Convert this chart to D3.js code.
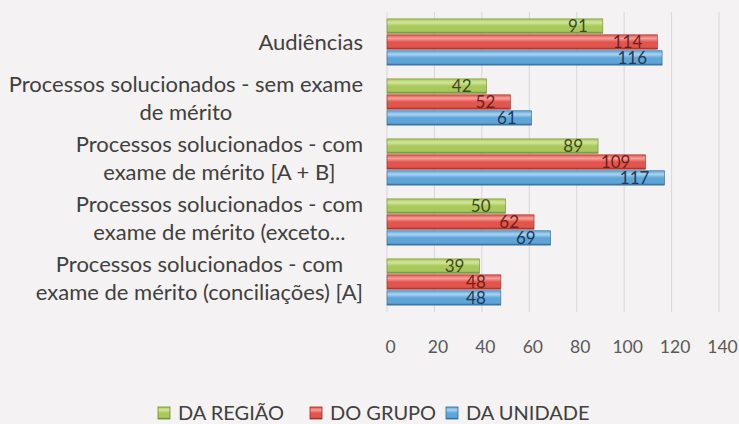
<!DOCTYPE html>
<html>
<head>
<meta charset="utf-8">
<script src="https://cdn.jsdelivr.net/npm/d3@7"></script>
<style>
  body { margin: 0; background: #f4f2f3; }
  svg { display: block; font-family: Lato, "Open Sans", sans-serif; }
</style>
</head>
<body>
<div id="chart"></div>
<script>
// categories, top to bottom as drawn
const categories = [
  ["Audiências"],
  ["Processos solucionados - sem exame", "de mérito"],
  ["Processos solucionados - com", "exame de mérito [A + B]"],
  ["Processos solucionados - com", "exame de mérito (exceto..."],
  ["Processos solucionados - com", "exame de mérito (conciliações) [A]"]
];
const seriesNames = ["DA REGIÃO", "DO GRUPO", "DA UNIDADE"];
const regiao = [91, 42, 89, 50, 39];
const grupo = [114, 52, 109, 62, 48];
const unidade = [116, 61, 117, 69, 48];
const xTicks = [0, 20, 40, 60, 80, 100, 120, 140];

const series = [regiao, grupo, unidade];
const colors = [
  { top: "#d4e59a", mid: "#a9c95c", bot: "#6f8a2e", text: "#3d4a1c" },
  { top: "#f4a09a", mid: "#e2554c", bot: "#9e2a24", text: "#6e1f1b" },
  { top: "#a9d3f0", mid: "#5fa5d8", bot: "#2f6a99", text: "#1d3a58" }
];

const width = 739, height = 424;
const svg = d3.select("#chart").append("svg")
  .attr("width", width).attr("height", height);

// bar gradients (bevelled look)
const defs = svg.append("defs");
colors.forEach((c, i) => {
  const g = defs.append("linearGradient").attr("id", "grad" + i)
    .attr("x1", 0).attr("y1", 0).attr("x2", 0).attr("y2", 1);
  g.append("stop").attr("offset", "0%").attr("stop-color", c.mid);
  g.append("stop").attr("offset", "25%").attr("stop-color", c.top);
  g.append("stop").attr("offset", "50%").attr("stop-color", c.mid);
  g.append("stop").attr("offset", "85%").attr("stop-color", c.mid);
  g.append("stop").attr("offset", "100%").attr("stop-color", c.bot);
});

const x = d3.scaleLinear().domain([0, 140]).range([387, 719]);
const y0 = d3.scaleBand().domain(d3.range(categories.length))
  .range([12, 312]).paddingInner(0.23).paddingOuter(0.115);
const y1 = d3.scaleBand().domain(d3.range(series.length))
  .range([0, y0.bandwidth()]).paddingInner(0.1);

// gridlines
svg.append("g").selectAll("line").data(xTicks).join("line")
  .attr("x1", d => x(d)).attr("x2", d => x(d))
  .attr("y1", 12).attr("y2", 312)
  .attr("stroke", "#d9d7d8").attr("stroke-width", 1);

// x axis labels
const xAxis = d3.axisBottom(x).tickValues(xTicks).tickSize(0).tickPadding(0);
const ax = svg.append("g").attr("transform", "translate(3,341)").call(xAxis);
ax.select(".domain").remove();
ax.selectAll("text").attr("font-size", 17.5).attr("fill", "#595959")
  .attr("font-family", "Lato, sans-serif");

// bars
const groups = svg.append("g").selectAll("g").data(categories).join("g")
  .attr("transform", (d, i) => `translate(0,${y0(i)})`);

groups.each(function (cat, ci) {
  const g = d3.select(this);
  series.forEach((s, si) => {
    const v = s[ci];
    g.append("rect")
      .attr("x", x(0)).attr("y", y1(si))
      .attr("width", x(v) - x(0)).attr("height", y1.bandwidth())
      .attr("fill", `url(#grad${si})`)
      .attr("stroke", colors[si].bot).attr("stroke-width", 0.6);
  });
  // value labels on top of all bars
  series.forEach((s, si) => {
    const v = s[ci];
    g.append("text")
      .attr("x", x(v) - 15).attr("y", y1(si) + y1.bandwidth() / 2)
      .attr("dy", "0.36em").attr("text-anchor", "end")
      .attr("font-size", 17).attr("fill", colors[si].text)
      .text(v);
  });
});

// category labels: lines centred on each other, block right-aligned
const labelRight = 363;
categories.forEach((lines, ci) => {
  const cy = y0(ci) + y0.bandwidth() / 2;
  const lh = 28;
  const t = svg.append("text")
    .attr("font-size", 22).attr("fill", "#404040").attr("text-anchor", "middle");
  lines.forEach((ln, li) => {
    t.append("tspan").attr("x", 0)
      .attr("y", cy + (li - (lines.length - 1) / 2) * lh - (lines.length > 1 ? 4 : 0))
      .attr("dy", "0.36em").text(ln);
  });
  const bb = t.node().getBBox();
  t.attr("transform", `translate(${labelRight - bb.width / 2},0)`);
});

// legend
const legendX = [158, 310, 446];
const legend = svg.append("g").selectAll("g").data(seriesNames).join("g")
  .attr("transform", (d, i) => `translate(${legendX[i]},413)`);
legend.append("rect").attr("x", 0).attr("y", -6).attr("width", 12).attr("height", 12)
  .attr("fill", (d, i) => `url(#grad${i})`)
  .attr("stroke", (d, i) => colors[i].bot).attr("stroke-width", 0.8);
legend.append("text").attr("x", 20).attr("dy", "0.36em")
  .attr("font-size", 20).attr("fill", "#404040").text(d => d);
</script>
</body>
</html>
